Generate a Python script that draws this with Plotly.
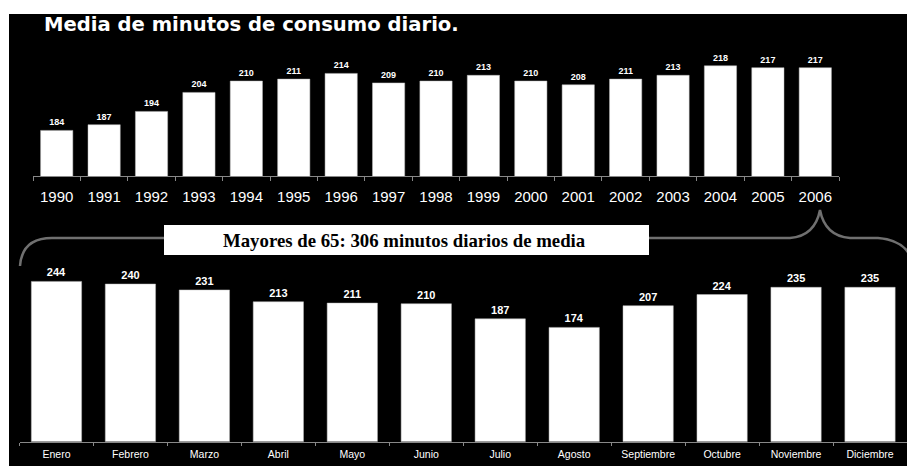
import plotly.graph_objects as go

W, H = 907, 466

years = ["1990", "1991", "1992", "1993", "1994", "1995", "1996", "1997", "1998",
         "1999", "2000", "2001", "2002", "2003", "2004", "2005", "2006"]
year_values = [184, 187, 194, 204, 210, 211, 214, 209, 210, 213, 210, 208, 211, 213, 218, 217, 217]

months = ["Enero", "Febrero", "Marzo", "Abril", "Mayo", "Junio", "Julio", "Agosto",
          "Septiembre", "Octubre", "Noviembre", "Diciembre"]
month_values = [244, 240, 231, 213, 211, 210, 187, 174, 207, 224, 235, 235]

title_text = "Media de minutos de consumo diario."
box_text = "Mayores de 65: 306 minutos diarios de media"


def fx(x):
    return x / W


def fy(y):
    return 1 - y / H


def pt(x, y):
    return f"{fx(x):.5f},{fy(y):.5f}"


fig = go.Figure()

fig.add_trace(go.Bar(
    x=years, y=year_values, xaxis="x", yaxis="y",
    marker=dict(color="white", line=dict(color="#bbbbbb", width=0.5)),
    text=year_values, texttemplate="<b>%{text}</b>", textposition="outside",
    textfont=dict(color="white", size=9, family="Liberation Sans"),
    cliponaxis=False, showlegend=False, hoverinfo="skip",
))
fig.add_trace(go.Bar(
    x=months, y=month_values, xaxis="x2", yaxis="y2",
    marker=dict(color="white", line=dict(color="#bbbbbb", width=0.5)),
    text=month_values, texttemplate="<b>%{text}</b>", textposition="outside",
    textfont=dict(color="white", size=11, family="Liberation Sans"),
    cliponaxis=False, showlegend=False, hoverinfo="skip",
))

# top axes: baseline y=176, 1.9 px per unit, from 160
top_base, top_top = 176, 50
top_max = 160 + (top_base - top_top) / 1.9
# bottom axes: baseline y=441.7, 0.657 px per unit, from 0
bot_base, bot_top = 441.7, 270
bot_max = (bot_base - bot_top) / 0.657

axis_common = dict(showgrid=False, zeroline=False, fixedrange=True)

fig.update_layout(
    width=W, height=H, autosize=False,
    margin=dict(l=0, r=0, t=0, b=0),
    paper_bgcolor="white", plot_bgcolor="rgba(0,0,0,0)",
    bargap=0.32,
    font=dict(family="Liberation Sans", color="white"),
    xaxis=dict(domain=[fx(33), fx(839)], anchor="y", showline=True, linecolor="#888888",
               linewidth=1, ticks="outside", tickson="boundaries", ticklen=4,
               tickcolor="#888888", tickfont=dict(size=15, color="white", family="Liberation Sans"),
               ticklabelstandoff=7, **axis_common),
    yaxis=dict(domain=[fy(top_base), fy(top_top)], anchor="x", range=[160, top_max],
               visible=False, **axis_common),
    xaxis2=dict(domain=[fx(19.5), 1.0], anchor="y2", showline=True, linecolor="#888888",
                linewidth=1, ticks="outside", tickson="boundaries", ticklen=3,
                tickcolor="#888888", tickfont=dict(size=10.5, color="white", family="Liberation Sans"),
                ticklabelstandoff=3, **axis_common),
    yaxis2=dict(domain=[fy(bot_base), fy(bot_top)], anchor="x2", range=[0, bot_max],
                visible=False, **axis_common),
)

shapes = [
    dict(type="rect", xref="paper", yref="paper", x0=fx(9), x1=1.0, y0=0.0, y1=fy(14),
         fillcolor="black", line=dict(width=0), layer="below"),
    dict(type="rect", xref="paper", yref="paper", x0=fx(164), x1=fx(649), y0=fy(255), y1=fy(225),
         fillcolor="white", line=dict(width=0), layer="above"),
    dict(type="path", xref="paper", yref="paper",
         path=f"M {pt(20, 266)} Q {pt(22, 238)} {pt(52, 238)} L {pt(164, 238)}",
         line=dict(color="#707070", width=2.5)),
    dict(type="path", xref="paper", yref="paper",
         path=(f"M {pt(649, 238)} L {pt(790, 238)} Q {pt(815, 236)} {pt(820, 210)} "
               f"Q {pt(825, 236)} {pt(850, 238)} L {pt(878, 238)} Q {pt(905, 240)} {pt(912, 260)}"),
         line=dict(color="#707070", width=2.5)),
]
fig.update_layout(shapes=shapes)

fig.add_annotation(xref="paper", yref="paper", x=fx(42), y=fy(24), xanchor="left", yanchor="middle",
                   text=f"<b>{title_text}</b>", showarrow=False,
                   font=dict(size=19.6, color="white", family="DejaVu Sans"))
fig.add_annotation(xref="paper", yref="paper", x=fx(404), y=fy(240), xanchor="center", yanchor="middle",
                   text=f"<b>{box_text}</b>", showarrow=False,
                   font=dict(size=18.8, color="black", family="Liberation Serif"))

fig.write_html("out.html")
